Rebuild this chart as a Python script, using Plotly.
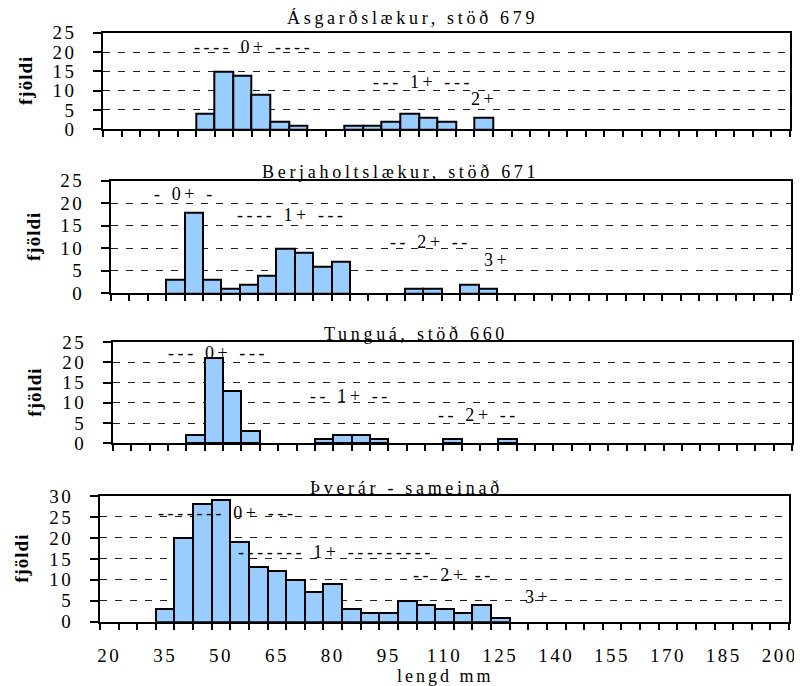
import plotly.graph_objects as go

# ---------------- data ----------------
CATEGORIES = list(range(20, 205, 5))          # length classes on the axis (mm)
LENGTHS = [35, 40, 45, 50, 55, 60, 65, 70, 75, 80, 85, 90, 95, 100, 105, 110, 115, 120, 125]
ASGARDSLAEKUR = [0, 0, 4, 15, 14, 9, 2, 1, 0, 0, 1, 1, 2, 4, 3, 2, 0, 3, 0]
BERJAHOLTSLAEKUR = [3, 18, 3, 1, 2, 4, 10, 9, 6, 7, 0, 0, 0, 1, 1, 0, 2, 1, 0]
TUNGUA = [0, 2, 21, 13, 3, 0, 0, 0, 1, 2, 2, 1, 0, 0, 0, 1, 0, 0, 1]
THVERAR = [3, 20, 28, 29, 19, 13, 12, 10, 7, 9, 3, 2, 2, 5, 4, 3, 2, 4, 1]

TITLES = ["Ásgarðslækur, stöð 679", "Berjaholtslækur, stöð 671",
          "Tunguá, stöð 660", "Þverár - sameinað"]
X_TICK_LABELS = ["20", "35", "50", "65", "80", "95", "110", "125", "140",
                 "155", "170", "185", "200"]
Y_TICKS_25 = [0, 5, 10, 15, 20, 25]
Y_TICKS_30 = [0, 5, 10, 15, 20, 25, 30]
Y_LABEL = "fjöldi"
X_LABEL = "lengd mm"

AGE_TEXT_1 = ["---- 0+ ----", "--- 1+ ---", "2+"]
AGE_TEXT_2 = ["- 0+ -", "---- 1+ ---", "-- 2+ --", "3+"]
AGE_TEXT_3 = ["--- 0+ ---", "-- 1+ --", "-- 2+ --"]
AGE_TEXT_4 = ["------- 0+ ---", "------- 1+ ---------", "-- 2+ --", "3+"]

SERIES = [ASGARDSLAEKUR, BERJAHOLTSLAEKUR, TUNGUA, THVERAR]
AGE_TEXTS = [AGE_TEXT_1, AGE_TEXT_2, AGE_TEXT_3, AGE_TEXT_4]
Y_TICKS = [Y_TICKS_25, Y_TICKS_25, Y_TICKS_25, Y_TICKS_30]

# ---------------- layout / style ----------------
OFF = 8                       # page body margin of the browser
W, H = 802 - OFF, 686 - OFF
FONT = "Liberation Serif, Times New Roman, serif"
# plot-area boxes in window pixels: left, right, top, bottom
BOXES = [(103.3, 790, 32.7, 129.3), (111, 791, 180.7, 293.3),
         (113, 792, 342, 443.3), (100, 789, 496, 621.7)]
TITLE_POS = [(412, 18), (400, 172), (416, 334), (406, 488)]
YLABEL_X = [25, 33, 35, 22]
XLABEL_POS = (445, 676)
# age-group label anchor points in data units (x, y)
AGE_POS = [
    [(58, 21.4), (103.6, 12.3), (120, 7.8)],
    [(37.6, 22.0), (66.7, 17.4), (104.3, 11.4), (122.5, 7.4)],
    [(46.1, 22.3), (82.1, 11.7), (117, 7.0)],
    [(51.6, 25.9), (80.9, 16.6), (112.3, 11.1), (135, 6.0)],
]


def px(x):
    return (x - OFF) / W


def py(y):
    return 1 - (y - OFF) / H


def spaced(text, s):
    return f"<span style='letter-spacing:{s}px'>{text}</span>"


half = (CATEGORIES[1] - CATEGORIES[0]) / 2
edges = [c - half for c in CATEGORIES] + [CATEGORIES[-1] + half]
xrange_ = [edges[0], edges[-1]]

fig = go.Figure()
annotations = []
layout = dict(
    template="none",
    width=W, height=H, autosize=False,
    margin=dict(l=0, r=0, t=0, b=0, pad=0),
    paper_bgcolor="white", plot_bgcolor="white",
    showlegend=False, bargap=0,
    font=dict(family=FONT, color="black"),
)

for i, (vals, box) in enumerate(zip(SERIES, BOXES)):
    n = "" if i == 0 else str(i + 1)
    L, R, T, B = box
    xs = [l for l, v in zip(LENGTHS, vals) if v > 0]
    ys = [v for v in vals if v > 0]
    fig.add_trace(go.Bar(
        x=xs, y=ys, width=2 * half, xaxis="x" + n, yaxis="y" + n,
        marker=dict(color="#99CCFF", line=dict(color="black", width=2)),
        hoverinfo="x+y",
    ))
    last = i == len(SERIES) - 1
    layout["xaxis" + n] = dict(
        domain=[px(L), px(R)], anchor="y" + n, range=xrange_, automargin=False,
        showgrid=False, zeroline=False,
        showline=True, linecolor="black", linewidth=2, mirror=True,
        tickmode="array",
        tickvals=[int(t) for t in X_TICK_LABELS],
        ticktext=[spaced(t, 2.5) for t in X_TICK_LABELS],
        showticklabels=last, ticks="outside", ticklen=0, tickcolor="black",
        ticklabelstandoff=15,
        tickfont=dict(size=19, family=FONT, color="black"),
        minor=dict(tickmode="array", tickvals=edges, ticks="outside",
                   ticklen=6, tickwidth=1.5, tickcolor="black", showgrid=False),
        fixedrange=True,
    )
    yt = Y_TICKS[i]
    layout["yaxis" + n] = dict(
        domain=[py(B), py(T)], anchor="x" + n, range=[yt[0], yt[-1]],
        automargin=False,
        tickmode="array", tickvals=yt, ticktext=[spaced(str(t), 2.5) for t in yt],
        ticks="outside", ticklen=8, tickwidth=1.5, tickcolor="black",
        ticklabelstandoff=13,
        tickfont=dict(size=19, family=FONT, color="black"),
        showgrid=True, gridcolor="#222222", gridwidth=1.3, griddash="7px,8px",
        zeroline=False,
        showline=True, linecolor="black", linewidth=2, mirror=True,
        fixedrange=True,
    )
    # panel title
    tx, ty = TITLE_POS[i]
    annotations.append(dict(
        text=spaced(TITLES[i], 3.7), xref="paper", yref="paper",
        x=px(tx), y=py(ty), xanchor="center", yanchor="middle",
        showarrow=False, font=dict(size=18, family=FONT, color="black"),
    ))
    # y axis label
    annotations.append(dict(
        text=spaced("<b>" + Y_LABEL + "</b>", 1), xref="paper", yref="paper",
        x=px(YLABEL_X[i]), y=py((T + B) / 2), xanchor="center", yanchor="middle",
        textangle=-90, showarrow=False, font=dict(size=19, family=FONT, color="black"),
    ))
    # age group labels
    for txt, (ax, ay) in zip(AGE_TEXTS[i], AGE_POS[i]):
        annotations.append(dict(
            text=spaced(txt, 3.6), xref="x" + n, yref="y" + n, x=ax, y=ay,
            xanchor="center", yanchor="middle", showarrow=False,
            font=dict(size=18, family=FONT, color="black"),
        ))

annotations.append(dict(
    text=spaced(X_LABEL, 3), xref="paper", yref="paper",
    x=px(XLABEL_POS[0]), y=py(XLABEL_POS[1]),
    xanchor="center", yanchor="middle", showarrow=False,
    font=dict(size=18, family=FONT, color="black"),
))
layout["annotations"] = annotations
fig.update_layout(**layout)
fig.write_html("out.html", config={"displayModeBar": False})
